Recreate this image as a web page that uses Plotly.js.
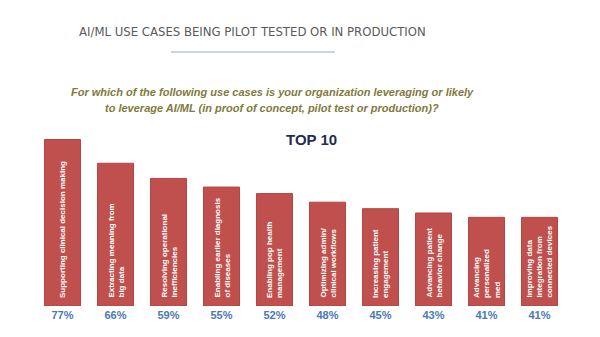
<!DOCTYPE html>
<html>
<head>
<meta charset="utf-8">
<script src="https://cdn.plot.ly/plotly-3.0.1.min.js"></script>
<style>html,body{margin:0;padding:0;background:#fff;}#chart{width:600px;height:337px;}</style>
</head>
<body>
<div id="chart"></div>
<script>
var useCases = [
  "Supporting clinical decision making",
  "Extracting meaning from<br>big data",
  "Resolving operational<br>inefficiencies",
  "Enabling earlier diagnosis<br>of diseases",
  "Enabling pop health<br>management",
  "Optimizing admin/<br>clinical workflows",
  "Increasing patient<br>engagement",
  "Advancing patient<br>behavior change",
  "Advancing<br>personalized<br>med",
  "Improving data<br>integration from<br>connected devices"
];
var percentValues = [77, 66, 59, 55, 52, 48, 45, 43, 41, 41];
var percentLabels = ["77%", "66%", "59%", "55%", "52%", "48%", "45%", "43%", "41%", "41%"];

var idx = useCases.map(function(_, i){ return i; });

var trace = {
  type: 'bar',
  x: idx,
  y: percentValues,
  marker: {color: '#c0504d', line: {color: '#b34444', width: 1}},
  hoverinfo: 'skip'
};

var annotations = useCases.map(function(label, i){
  return {
    x: i, y: 0, xref: 'x', yref: 'y',
    text: label,
    showarrow: false,
    textangle: -90,
    xanchor: 'center', yanchor: 'bottom',
    align: 'left',
    yshift: 6,
    font: {family: 'Liberation Sans, Arial, sans-serif', size: 8, color: '#ffffff', weight: 'bold'}
  };
});

function py(pix){ return (337 - 31 - pix) / 173; }
function px(pix){ return (pix - 36) / 530; }

annotations.push({
  xref: 'paper', yref: 'paper', x: px(311), y: py(139), yanchor: 'middle',
  text: '<b>TOP 10</b>', showarrow: false,
  font: {family: 'Liberation Sans, Arial, sans-serif', size: 15, color: '#1f2d4e'}
});
annotations.push({
  xref: 'paper', yref: 'paper', x: px(252), y: py(31), yanchor: 'middle',
  text: 'AI/ML USE CASES BEING PILOT TESTED OR IN PRODUCTION', showarrow: false,
  font: {family: 'Liberation Sans Narrow, DejaVu Sans Condensed, sans-serif', size: 13, color: '#595959'}
});
annotations.push({
  xref: 'paper', yref: 'paper', x: px(272), y: py(92), yanchor: 'middle',
  text: '<b><i>For which of the following use cases is your organization leveraging or likely</i></b>',
  showarrow: false,
  font: {family: 'Liberation Sans, Arial, sans-serif', size: 11, color: '#7f7a3c'}
});
annotations.push({
  xref: 'paper', yref: 'paper', x: px(272), y: py(108), yanchor: 'middle',
  text: '<b><i>to leverage AI/ML (in proof of concept, pilot test or production)?</i></b>',
  showarrow: false,
  font: {family: 'Liberation Sans, Arial, sans-serif', size: 11, color: '#7f7a3c'}
});

var layout = {
  width: 600, height: 337,
  margin: {l: 36, r: 34, t: 133, b: 31},
  paper_bgcolor: '#ffffff', plot_bgcolor: '#ffffff',
  showlegend: false,
  bargap: 0.32,
  xaxis: {
    range: [-0.5, 9.5],
    tickvals: idx, ticktext: percentLabels,
    showgrid: false, zeroline: false, showline: false, ticks: '',
    ticklabelstandoff: 1,
    tickfont: {family: 'Liberation Sans, Arial, sans-serif', size: 11, color: '#4a78b5', weight: 'bold'}
  },
  yaxis: {range: [0, 80], visible: false, showgrid: false, zeroline: false},
  annotations: annotations,
  shapes: [
    {type: 'line', xref: 'paper', yref: 'paper',
     x0: px(171), x1: px(335), y0: py(52), y1: py(52),
     line: {color: '#8eaadb', width: 1}}
  ]
};

Plotly.newPlot('chart', [trace], layout, {displayModeBar: false, staticPlot: true});
</script>
</body>
</html>
